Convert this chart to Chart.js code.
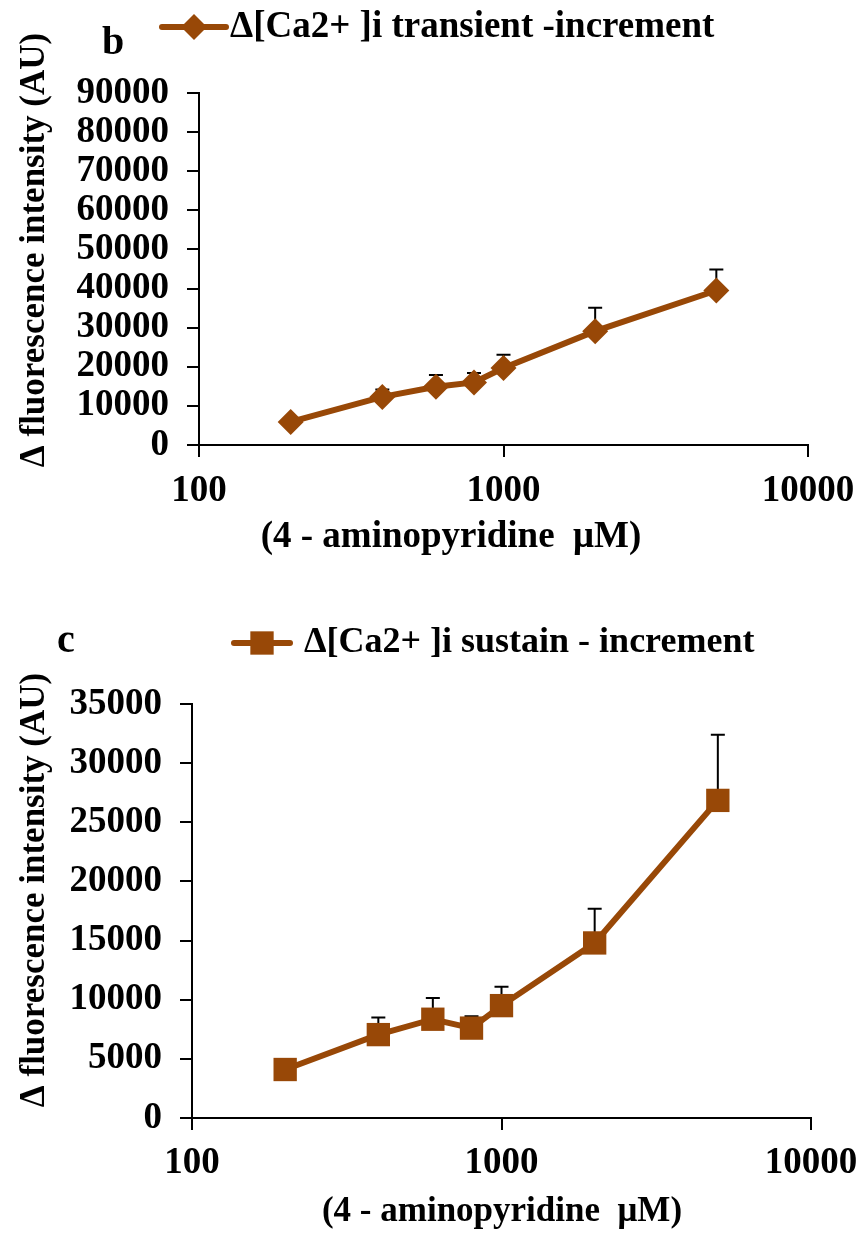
<!DOCTYPE html>
<html><head><meta charset="utf-8">
<script src="https://cdn.jsdelivr.net/npm/chart.js@4.4.1/dist/chart.umd.min.js"></script>
<style>
html,body{margin:0;padding:0;background:#fff;width:859px;height:1233px;overflow:hidden}
.c{position:absolute;left:0;width:859px}
</style></head><body>
<div class="c" style="top:0;height:590px"><canvas id="c1"></canvas></div>
<div class="c" style="top:590px;height:643px"><canvas id="c2"></canvas></div>
<script>
// ---- data ----
const concentrations = [200, 400, 600, 800, 1000, 2000, 5000];
const transientMean = [5900, 12300, 14900, 16000, 19700, 29100, 39500];
const transientErr  = [500, 1900, 3000, 2400, 3400, 6000, 5400];
const sustainMean   = [4100, 7050, 8350, 7600, 9500, 14800, 26850];
const sustainErr    = [300, 1450, 1800, 1000, 1600, 2900, 5550];
const xTickValues = [100, 1000, 10000];
const transientYTicks = [0, 10000, 20000, 30000, 40000, 50000, 60000, 70000, 80000, 90000];
const sustainYTicks = [0, 5000, 10000, 15000, 20000, 25000, 30000, 35000];
const transientLabel = 'Δ[Ca2+ ]i transient -increment';
const sustainLabel = 'Δ[Ca2+ ]i sustain - increment';
const yTitleText = 'Δ fluorescence intensity (AU)';
const xTitleText = '(4 - aminopyridine  μM)';
const panelB = 'b';
const panelC = 'c';

const BROWN = '#984807';
const FONT = '"Liberation Serif","Times New Roman",serif';

const errorBars = {
  id: 'errorBars',
  beforeDatasetsDraw(chart, args, opts) {
    const {ctx, scales: {x, y}} = chart;
    const ds = chart.data.datasets[0];
    ctx.save();
    ctx.strokeStyle = '#000';
    ctx.lineWidth = 2;
    ds.data.forEach((p, i) => {
      const e = opts.errors[i];
      const px = x.getPixelForValue(p.x);
      const y0 = y.getPixelForValue(p.y);
      const y1 = y.getPixelForValue(p.y + e);
      ctx.beginPath();
      ctx.moveTo(px, y0); ctx.lineTo(px, y1);
      ctx.moveTo(px - 7, y1); ctx.lineTo(px + 7, y1);
      ctx.stroke();
    });
    ctx.restore();
  }
};

const annotations = {
  id: 'annotations',
  afterDraw(chart, args, o) {
    const ctx = chart.ctx;
    const ds = chart.data.datasets[0];
    ctx.save();
    ctx.fillStyle = '#000';
    // panel letter
    ctx.font = 'bold ' + o.letterSize + 'px ' + FONT;
    ctx.textAlign = 'left'; ctx.textBaseline = 'middle';
    ctx.fillText(o.letter, o.letterX, o.letterY);
    // legend
    ctx.strokeStyle = BROWN; ctx.lineWidth = 6; ctx.lineCap = 'round';
    ctx.beginPath(); ctx.moveTo(o.legX0, o.legY); ctx.lineTo(o.legX1, o.legY); ctx.stroke();
    ctx.fillStyle = BROWN;
    Chart.helpers.drawPoint(ctx, {pointStyle: ds.pointStyle, radius: ds.pointRadius, borderWidth: 0, rotation: 0},
      (o.legX0 + o.legX1) / 2, o.legY);
    ctx.fillStyle = '#000';
    ctx.font = 'bold ' + o.legSize + 'px ' + FONT;
    ctx.fillText(ds.label, o.legTextX, o.legY);
    // x title
    ctx.font = 'bold ' + o.titleSize + 'px ' + FONT;
    ctx.textAlign = 'center';
    ctx.fillText(o.xTitle, o.xTitleX, o.xTitleY);
    // y title
    ctx.font = 'bold ' + o.yTitleSize + 'px ' + FONT;
    ctx.translate(o.yTitleX, o.yTitleY);
    ctx.rotate(-Math.PI / 2);
    ctx.fillText(o.yTitle, 0, 0);
    ctx.restore();
  }
};

function makeChart(id, cfg) {
  return new Chart(document.getElementById(id), {
    type: 'line',
    data: {
      datasets: [{
        label: cfg.label,
        data: concentrations.map((c, i) => ({x: c, y: cfg.values[i]})),
        borderColor: BROWN,
        backgroundColor: BROWN,
        borderWidth: 6,
        pointStyle: cfg.pointStyle,
        pointRadius: cfg.pointRadius,
        pointHoverRadius: cfg.pointRadius,
        pointBackgroundColor: BROWN,
        pointBorderColor: BROWN,
        pointBorderWidth: 0,
        tension: 0,
        clip: false
      }]
    },
    options: {
      responsive: true,
      maintainAspectRatio: false,
      animation: false,
      events: [],
      layout: {padding: {top: cfg.top, right: cfg.right, bottom: 0, left: 0}},
      plugins: {
        legend: {display: false},
        tooltip: {enabled: false},
        errorBars: {errors: cfg.errors},
        annotations: cfg.ann
      },
      scales: {
        x: {
          type: 'logarithmic',
          min: 100, max: 10000,
          afterBuildTicks: s => { s.ticks = xTickValues.map(v => ({value: v, major: true})); },
          afterFit: s => { s.height = cfg.xHeight; s.paddingLeft = 0; s.paddingRight = 0; },
          ticks: {
            autoSkip: false, maxRotation: 0,
            color: '#000',
            font: {family: FONT, size: 37, weight: 'bold'},
            padding: cfg.xPad,
            callback: v => String(v)
          },
          grid: {drawOnChartArea: false, drawTicks: true, tickLength: 12, color: '#000', lineWidth: 2},
          border: {color: '#000', width: 2}
        },
        y: {
          min: 0, max: cfg.yTicks[cfg.yTicks.length - 1],
          afterBuildTicks: s => { s.ticks = cfg.yTicks.map(v => ({value: v})); },
          afterFit: s => { s.width = cfg.left; s.paddingTop = 0; s.paddingBottom = 0; },
          ticks: {
            autoSkip: false,
            color: '#000',
            font: {family: FONT, size: 37, weight: 'bold'},
            padding: 18,
            callback: v => String(v)
          },
          grid: {drawOnChartArea: false, drawTicks: true, tickLength: 12, color: '#000', lineWidth: 2},
          border: {color: '#000', width: 2}
        }
      }
    },
    plugins: [errorBars, annotations]
  });
}

makeChart('c1', {
  label: transientLabel, values: transientMean, errors: transientErr,
  pointStyle: 'rectRot', pointRadius: 13,
  yTicks: transientYTicks,
  top: 93, right: 51, left: 199, xHeight: 145, xPad: 12,
  ann: {
    letter: panelB, letterSize: 40, letterX: 102, letterY: 44,
    legX0: 162, legX1: 226, legY: 27, legTextX: 230, legSize: 37,
    titleSize: 37, xTitle: xTitleText, xTitleX: 451, xTitleY: 537,
    yTitleSize: 35, yTitle: yTitleText, yTitleX: 35, yTitleY: 250
  }
});

makeChart('c2', {
  label: sustainLabel, values: sustainMean, errors: sustainErr,
  pointStyle: 'rect', pointRadius: 16.5,
  yTicks: sustainYTicks,
  top: 114, right: 48, left: 192, xHeight: 115, xPad: 11,
  ann: {
    letter: panelC, letterSize: 40, letterX: 57, letterY: 52,
    legX0: 234, legX1: 290, legY: 53, legTextX: 304, legSize: 36,
    titleSize: 35, xTitle: xTitleText, xTitleX: 502, xTitleY: 622,
    yTitleSize: 35, yTitle: yTitleText, yTitleX: 35, yTitleY: 300
  }
});
</script>
</body></html>
